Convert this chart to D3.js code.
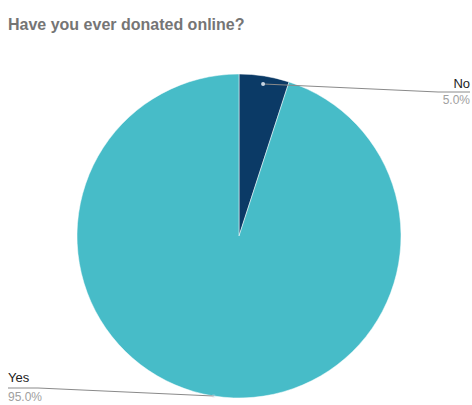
<!DOCTYPE html>
<html>
<head>
<meta charset="utf-8">
<script src="https://cdn.jsdelivr.net/npm/d3@7"></script>
<style>
  html, body { margin: 0; padding: 0; background: #fff; }
  svg { display: block; }
</style>
</head>
<body>
<svg id="chart" width="472" height="405"></svg>
<script>
// Survey answers, drawn clockwise from 12 o'clock
const categories = ["No", "Yes"];
const values = [5, 95];
const colors = ["#0b3a66", "#47bcc8"];

const width = 472, height = 405;
const cx = 239, cy = 236, radius = 162;

const svg = d3.select("#chart");

svg.append("text")
  .attr("x", 8).attr("y", 30)
  .attr("font-family", "Liberation Sans, Arial, sans-serif")
  .attr("font-size", 16)
  .attr("font-weight", "bold")
  .attr("fill", "#757575")
  .text("Have you ever donated online?");

const data = categories.map((c, i) => ({ label: c, value: values[i], color: colors[i] }));
const total = d3.sum(values);

const pie = d3.pie().sort(null).value(d => d.value);
const arcs = pie(data);
const arc = d3.arc().innerRadius(0).outerRadius(radius);

const g = svg.append("g").attr("transform", `translate(${cx},${cy})`);

g.selectAll("path.slice")
  .data(arcs)
  .join("path")
  .attr("class", "slice")
  .attr("d", arc)
  .attr("fill", d => d.data.color)
  .attr("stroke", "#fff")
  .attr("stroke-width", 0.5);

// Leader lines and labels
const pct = d3.format(".1f");
const anchorFactor = { No: 0.95, Yes: 1.0 };
const labelLayout = {
  No:  { side: "right", textX: 470, nameY: 88, lineY: 92, valueY: 104, lineStart: 438 },
  Yes: { side: "left",  textX: 8,   nameY: 382, lineY: 388, valueY: 401, lineStart: 38 }
};

arcs.forEach(a => {
  const L = labelLayout[a.data.label];
  const mid = (a.startAngle + a.endAngle) / 2;
  const r = radius * anchorFactor[a.data.label];
  const px = cx + r * Math.sin(mid);
  const py = cy - r * Math.cos(mid);
  const edgeX = L.side === "right" ? width - 2 : 8;

  const line = d3.line();
  svg.append("path")
    .attr("d", line([[px, py], [L.lineStart, L.lineY], [edgeX, L.lineY]]))
    .attr("fill", "none")
    .attr("stroke", "#8a8a8a")
    .attr("stroke-width", 1);

  svg.append("circle")
    .attr("cx", px).attr("cy", py).attr("r", 2)
    .attr("fill", "#c9d6e3")
    .attr("opacity", a.data.label === "No" ? 1 : 0.3);

  const anchor = L.side === "right" ? "end" : "start";
  svg.append("text")
    .attr("x", L.textX).attr("y", L.nameY)
    .attr("text-anchor", anchor)
    .attr("font-family", "Liberation Sans, Arial, sans-serif")
    .attr("font-size", 13)
    .attr("fill", "#222")
    .text(a.data.label);

  svg.append("text")
    .attr("x", L.textX).attr("y", L.valueY)
    .attr("text-anchor", anchor)
    .attr("font-family", "Liberation Sans, Arial, sans-serif")
    .attr("font-size", 12)
    .attr("fill", "#a0a0a0")
    .text(pct(a.data.value / total * 100) + "%");
});
</script>
</body>
</html>
